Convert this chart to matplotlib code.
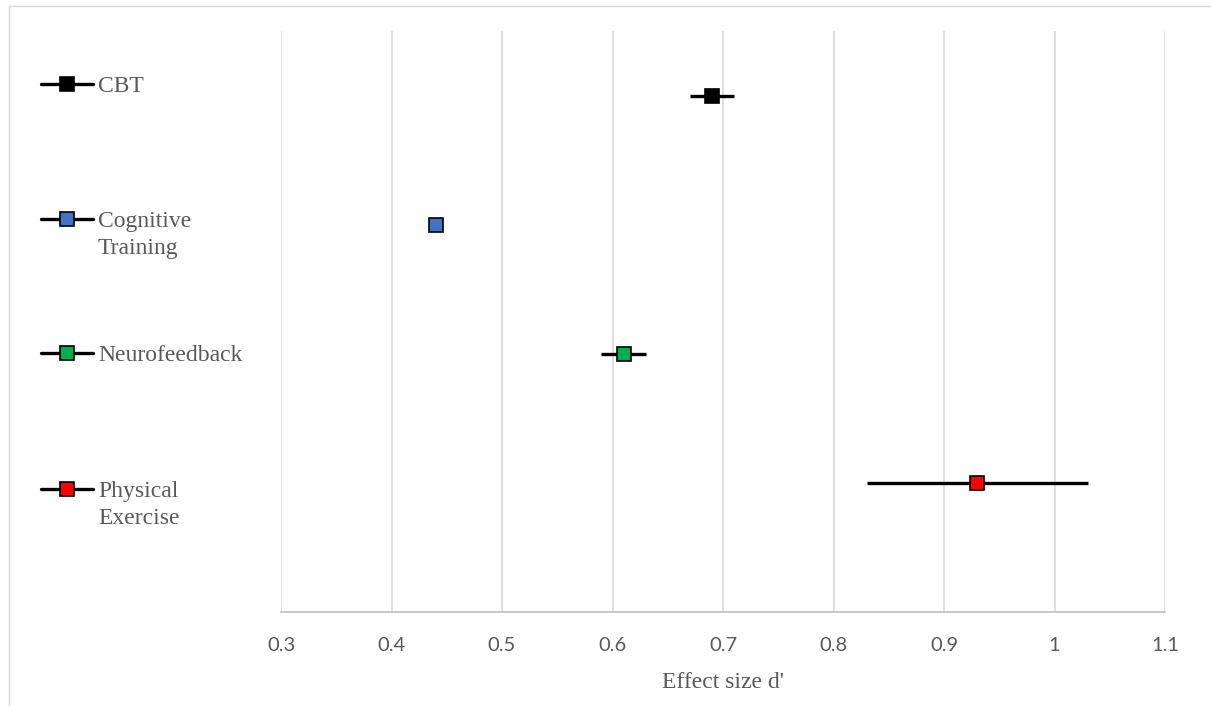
import matplotlib
matplotlib.use('Agg')
import matplotlib.pyplot as plt
from matplotlib.lines import Line2D

# data
groups = ['CBT', 'Cognitive\nTraining', 'Neurofeedback', 'Physical\nExercise']
effect = [0.69, 0.44, 0.61, 0.93]
err = [0.02, 0.0, 0.02, 0.10]
ypos = [4, 3, 2, 1]
colors = ['#000000', '#4472C4', '#00B050', '#FF0000']
xticks = [0.3, 0.4, 0.5, 0.6, 0.7, 0.8, 0.9, 1.0, 1.1]
xticklabels = ['0.3', '0.4', '0.5', '0.6', '0.7', '0.8', '0.9', '1', '1.1']

W, H = 1211, 706
fig = plt.figure(figsize=(W / 100, H / 100), dpi=100)
ax = fig.add_axes([281 / W, (H - 612) / H, (1165 - 281) / W, (612 - 31) / H])

for i in range(len(groups)):
    ax.errorbar(effect[i], ypos[i], xerr=err[i], fmt='s', color='black',
                ecolor='black', elinewidth=2.4, capsize=0,
                markersize=10.5, markerfacecolor=colors[i],
                markeredgecolor='black', markeredgewidth=1.2, zorder=3)

ax.set_xlim(0.3, 1.1)
ax.set_ylim(0, 4.5)
ax.set_xticks(xticks)
ax.set_xticklabels(xticklabels, fontfamily='Lato', fontsize=14.5, color='#595959')
ax.set_yticks([])
ax.tick_params(axis='x', length=0, pad=18)
ax.grid(axis='x', color='#d9d9d9', linewidth=1.2)
ax.set_axisbelow(True)
for s in ['top', 'right', 'left']:
    ax.spines[s].set_visible(False)
ax.spines['bottom'].set_color('#bfbfbf')
ax.spines['bottom'].set_linewidth(1.2)
ax.set_xlabel("Effect size d'", fontfamily='Liberation Serif', fontsize=17,
              color='#595959', labelpad=13)

# legend on the left, drawn by hand like the Excel one
leg_y = [84, 219, 353, 489]
for i in range(len(groups)):
    yy = 1 - leg_y[i] / H
    fig.add_artist(Line2D([41 / W, 93 / W], [yy, yy], color='black', lw=2.4,
                          solid_capstyle='round'))
    fig.add_artist(Line2D([67 / W], [yy], marker='s', markersize=10.5,
                          markerfacecolor=colors[i], markeredgecolor='black',
                          markeredgewidth=1.2, linestyle='none'))
    fig.text(98 / W, 1 - (leg_y[i] - 8) / H, groups[i], ha='left', va='top',
             fontfamily='Liberation Serif', fontsize=17, color='#595959',
             linespacing=1.35)

# chart area border (cut off at right and bottom)
fig.add_artist(Line2D([9 / W, 9 / W], [0, 1 - 6 / H], color='#d9d9d9', lw=1))
fig.add_artist(Line2D([9 / W, 1], [1 - 6 / H, 1 - 6 / H], color='#d9d9d9', lw=1))

fig.savefig('out.png', dpi=100)
